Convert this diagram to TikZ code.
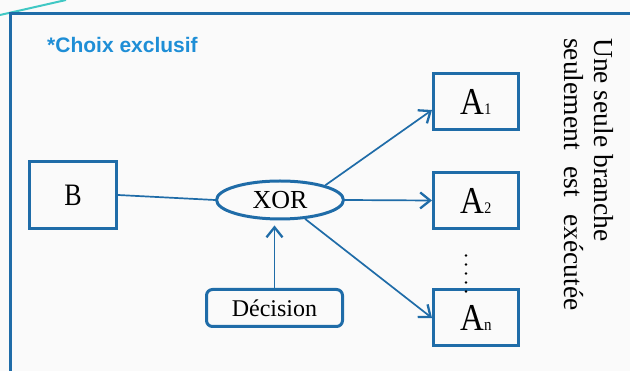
\documentclass[tikz,border=0pt]{standalone}
\usepackage{graphicx}
\usepackage{fontspec}
\setmainfont{Liberation Serif}
\newfontfamily\titlefont{Liberation Sans}
\usetikzlibrary{shapes.geometric,arrows.meta}

\definecolor{framecol}{RGB}{31,108,168}
\definecolor{titlecol}{RGB}{30,142,214}
\definecolor{cornercol}{RGB}{64,200,196}
\definecolor{bgcol}{RGB}{250,250,250}

\begin{document}
\begin{tikzpicture}[x=1pt,y=1pt]
%define

\tikzstyle{state_b} = [rectangle, text centered, draw=framecol, line width=3pt, fill=bgcol, inner sep=0pt]
\tikzstyle{state_a} = [state_b, minimum width=85pt, minimum height=56pt, font=\fontsize{33}{33}\selectfont]
\tikzstyle{state_e} = [ellipse, minimum width=127pt, minimum height=38pt, text centered, draw=framecol, line width=3pt, fill=bgcol, inner sep=0pt, font=\fontsize{26}{26}\selectfont]
\tikzstyle{state_r} = [rectangle, rounded corners=6pt, minimum width=136pt, minimum height=37pt, text centered, draw=framecol, line width=3pt, fill=bgcol, inner sep=0pt, font=\fontsize{24}{24}\selectfont]
\tikzstyle{line} = [draw=framecol, line width=1.7pt]
\tikzstyle{arrow} = [line, -{Straight Barb[length=10pt, width=16pt, line width=2.3pt]}]
\tikzstyle{dots} = [black, line width=2.6pt, line cap=round, dash pattern=on 0pt off 9pt]

\useasboundingbox (0,0) rectangle (630,-371);
%background
\fill[bgcol] (0,0) rectangle (630,-371);
\draw[cornercol, line width=2pt] (0,-15) -- (66,0);
%frame
\draw[framecol, line width=3pt] (640,-14) -- (10,-14) -- (10,-380);

\node[anchor=base west, inner sep=0pt, text=titlecol, font=\titlefont\bfseries\fontsize{21}{24}\selectfont] (title) at (47,-53) {*Choix exclusif};

\node[state_b, minimum width=87pt, minimum height=67pt, font=\fontsize{26}{26}\selectfont] (box_B) at (73,-195) {\scalebox{1}[1.2]{B}};
\node[state_e] (box_XOR) at (280,-200) {XOR};
\node[state_r] (box_Dec) at (274.5,-308) {Décision};
\node[state_a] (box_A1) at (476,-102) {\scalebox{1}[1.15]{A{\fontsize{14}{14}\selectfont 1}}};
\node[state_a] (box_A2) at (476,-200.5) {\scalebox{1}[1.15]{A{\fontsize{14}{14}\selectfont 2}}};
\node[state_a] (box_An) at (476,-318) {\scalebox{1}[1.15]{A{\fontsize{15}{15}\selectfont n}}};

\node[rotate=-90, anchor=north west, inner sep=0pt, align=left, font=\fontsize{27.5}{30}\selectfont] (note) at (614,-38) {Une seule branche\\seulement\hspace{17pt}est\hspace{17pt}exécutée};

%line
\draw[line](box_B.east)--(box_XOR.west); %B->XOR
\draw[arrow](box_XOR.18)--([yshift=-8pt]box_A1.west); %XOR->A1
\draw[arrow](box_XOR.east)--(box_A2.west); %XOR->A2
\draw[arrow](box_XOR.-37)--(box_An.west); %XOR->An
\draw[arrow, shorten >=5pt](box_Dec.north)--(box_Dec.north |- box_XOR.south); %Decision->XOR
\draw[dots](box_An.north) ++(-10,33) -- ++(0,-43); %A2...An

\end{tikzpicture}
\end{document}
